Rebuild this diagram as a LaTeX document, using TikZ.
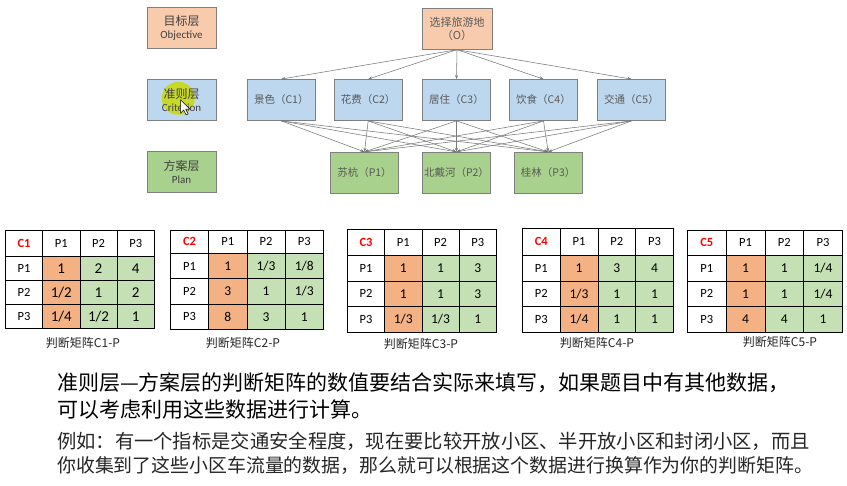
\documentclass[tikz,border=0pt]{standalone}
\usepackage{fontspec}
\setmainfont{Carlito}
\newfontfamily\cjk{Noto Sans CJK SC}
\newfontfamily\tabfont{Carlito}
\usetikzlibrary{arrows.meta}
\definecolor{objfill}{HTML}{F8CBAD}
\definecolor{crifill}{HTML}{BDD7EE}
\definecolor{planfill}{HTML}{A9D18E}
\definecolor{orcell}{HTML}{F4B183}
\definecolor{grcell}{HTML}{C5E0B4}
\definecolor{boxline}{HTML}{7F7F7F}
\definecolor{conncol}{HTML}{7A7A7A}
\definecolor{hilite}{HTML}{C8D91E}
\definecolor{boxtext}{HTML}{595959}
\definecolor{lbltext}{HTML}{404040}
\tikzset{
  layerbox/.style={draw=boxline, line width=0.8pt, minimum width=69pt, minimum height=41pt,
    inner sep=0pt, align=center, text=lbltext, font=\cjk\fontsize{12}{13.5}\selectfont},
  hbox/.style={draw=boxline, line width=0.8pt, minimum width=68.5pt, minimum height=41pt,
    inner sep=0pt, align=center, text=boxtext, font=\cjk\fontsize{10.5}{12.5}\selectfont},
  conn/.style={draw=conncol, line width=0.55pt, -{Stealth[length=4pt,width=3pt]}},
  tcell/.style={draw=black, line width=0.8pt, inner sep=0pt, anchor=north west, fill=white,
    font=\tabfont\fontsize{12.5}{14}\selectfont},
  captext/.style={font=\cjk\fontsize{12}{14}\selectfont, text=black!85},
  notetext/.style={anchor=west, inner sep=0pt, text=black}
}
% #1 id, #2 label, #3 x0, #4 y0, #5 x1, #6 y1, #7 header height, #8 values, #9 value font size
\newcommand\jtab[9]{%
  \pgfmathsetmacro\cw{(#5-#3)/4}%
  \pgfmathsetmacro\rh{(#6-#4-#7)/3}%
  \node[tcell, minimum width=\cw pt, minimum height=#7 pt, text=red,
        font=\tabfont\bfseries\fontsize{12.5}{14}\selectfont] (#1-h0) at (#3,#4) {#2};
  \foreach \k in {1,2,3} {
    \node[tcell, minimum width=\cw pt, minimum height=#7 pt] (#1-h\k) at ({#3+\k*\cw},#4) {P\k};
    \node[tcell, minimum width=\cw pt, minimum height=\rh pt] (#1-r\k) at (#3,{#4+#7+(\k-1)*\rh}) {P\k};
  }
  \foreach \v [count=\i from 0] in {#8} {
    \pgfmathtruncatemacro\rr{int(\i/3)}
    \pgfmathtruncatemacro\cc{mod(\i,3)}
    \ifnum\cc=0 \def\fc{orcell}\else\def\fc{grcell}\fi
    \node[tcell, fill=\fc, minimum width=\cw pt, minimum height=\rh pt,
          font=\tabfont\fontsize{#9}{#9}\selectfont] (#1-\rr\cc) at ({#3+(\cc+1)*\cw},{#4+#7+\rr*\rh}) {\v};
  }
}
\begin{document}
\begin{tikzpicture}[x=1pt,y=-1pt]
\fill[white] (0,0) rectangle (847,486);
\useasboundingbox (0,0) rectangle (847,486);

% layer labels
\node[layerbox, fill=objfill] (Lobj) at (181.5,27.7) {目标层\\{\tabfont\fontsize{11}{13}\selectfont Objective}};
\node[layerbox, fill=crifill] (Lcri) at (181.5,100) {};
\fill[hilite, opacity=0.95] (178.3,98.3) circle (16.5);
\node[align=center, text=lbltext, font=\cjk\fontsize{12}{13.5}\selectfont] (Lcritext) at (Lcri.center) {准则层\\{\tabfont\fontsize{11}{13}\selectfont Criterion}};
\filldraw[fill=white, draw=black, line width=0.5pt] (180.7,100) -- ++(0,13) -- ++(3,-3) -- ++(2.4,5) -- ++(2,-1) -- ++(-2.4,-4.8) -- ++(4.2,0) -- cycle;
\node[layerbox, fill=planfill] (Lplan) at (181.5,172.2) {方案层\\{\tabfont\fontsize{11}{13}\selectfont Plan}};

% objective
\node[hbox, fill=objfill, minimum width=70pt, font=\cjk\fontsize{11}{13}\selectfont] (O) at (457,28.8) {选择旅游地\\（O）};
% criteria
\node[hbox, fill=crifill] (C1) at (281.3,100) {景色（C1）};
\node[hbox, fill=crifill] (C2) at (368.2,100) {花费（C2）};
\node[hbox, fill=crifill] (C3) at (456.5,100) {居住（C3）};
\node[hbox, fill=crifill] (C4) at (543.5,100) {饮食（C4）};
\node[hbox, fill=crifill] (C5) at (631.5,100) {交通（C5）};
% plans
\node[hbox, fill=planfill, minimum width=68pt] (P1) at (364.5,172.8) {苏杭（P1）};
\node[hbox, fill=planfill, minimum width=68pt] (P2) at (456.5,172.8) {北戴河（P2）};
\node[hbox, fill=planfill, minimum width=68pt] (P3) at (548.2,172.8) {桂林（P3）};

\foreach \c in {C1,C2,C3,C4,C5} {
  \draw[conn] (O.south) -- (\c.north);
  \foreach \p in {P1,P2,P3} { \draw[conn] (\c.south) -- (\p.north); }
}

% tables
\jtab{t1}{C1}{5}{230}{154}{328}{26}{1,2,4,1/2,1,2,1/4,1/2,1}{15}
\jtab{t2}{C2}{170}{230}{323}{329}{23}{1,1/3,1/8,3,1,1/3,8,3,1}{13.5}
\jtab{t3}{C3}{347}{229}{496}{332}{26}{1,1,3,1,1,3,1/3,1/3,1}{13.5}
\jtab{t4}{C4}{522}{228}{673}{332}{27}{1,3,4,1/3,1,1,1/4,1,1}{13.5}
\jtab{t5}{C5}{687}{230}{842}{332}{25}{1,1,1/4,1,1,1/4,4,4,1}{13.5}

\node[captext] (cap1) at (83,343) {判断矩阵C1-P};
\node[captext] (cap2) at (243,343) {判断矩阵C2-P};
\node[captext] (cap3) at (421,344) {判断矩阵C3-P};
\node[captext] (cap4) at (597,343) {判断矩阵C4-P};
\node[captext] (cap5) at (780,342) {判断矩阵C5-P};

% notes
\node[notetext, font=\cjk\fontsize{21}{24}\selectfont] (n1) at (57,383) {准则层—方案层的判断矩阵的数值要结合实际来填写，如果题目中有其他数据，};
\node[notetext, font=\cjk\fontsize{21}{24}\selectfont] (n2) at (57,410) {可以考虑利用这些数据进行计算。};
\node[notetext, text=black!85, font=\cjk\fontsize{19.3}{23}\selectfont] (n3) at (57,441) {例如：有一个指标是交通安全程度，现在要比较开放小区、半开放小区和封闭小区，而且};
\node[notetext, text=black!85, font=\cjk\fontsize{18.9}{23}\selectfont] (n4) at (57,466) {你收集到了这些小区车流量的数据，那么就可以根据这个数据进行换算作为你的判断矩阵。};
\end{tikzpicture}
\end{document}
